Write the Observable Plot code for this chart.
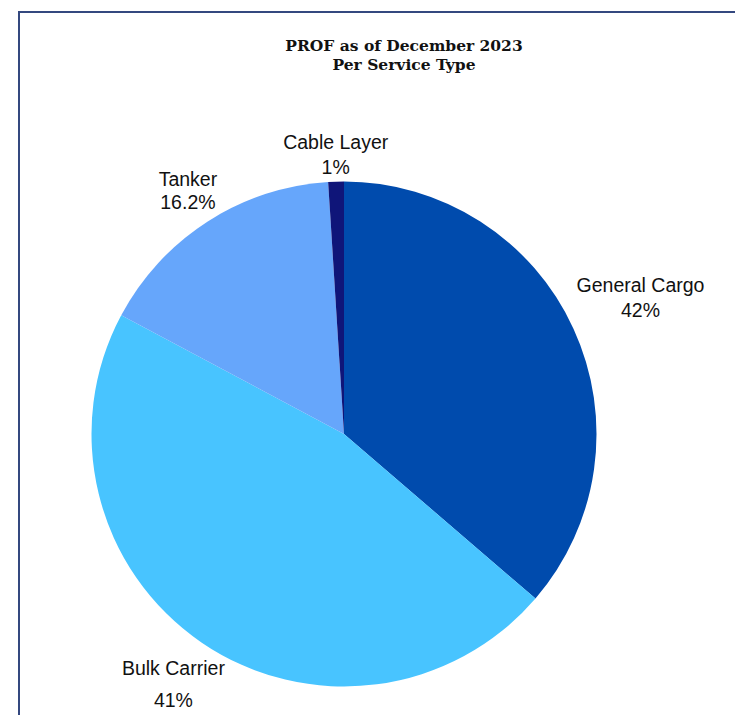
<!DOCTYPE html>
<html>
<head>
<meta charset="utf-8">
<script src="https://cdn.jsdelivr.net/npm/d3@7"></script>
<script src="https://cdn.jsdelivr.net/npm/@observablehq/plot@0.6"></script>
<style>
  html, body { margin: 0; padding: 0; background: #fff; }
  #wrap { position: relative; width: 735px; height: 715px; overflow: hidden; }
  #chart { position: absolute; left: 0; top: 0; }
  #frame { position: absolute; left: 18px; top: 11px; right: -10px; bottom: -10px;
           border-left: 2px solid #34487f; border-top: 2px solid #34487f; pointer-events: none; }
  #title { position: absolute; left: 204px; width: 400px; top: 36px; text-align: center;
           font: bold 15.5px/19px "DejaVu Serif", serif; color: #111; }
</style>
</head>
<body>
<div id="wrap">
  <div id="chart"></div>
  <div id="frame"></div>
  <div id="title">PROF as of December 2023<br>Per Service Type</div>
</div>
<script>
// ---- data ----
const categories = ["General Cargo", "Bulk Carrier", "Tanker", "Cable Layer"];
const shares = [36.3, 46.5, 16.2, 1.0];          // slice sizes as drawn (%)
const labelTexts = ["42%", "41%", "16.2%", "1%"]; // data labels as printed

// ---- styles / layout ----
const palette = ["#004BAD", "#48C4FF", "#66A6FB", "#0F1579"];
const W = 735, H = 715;
const cx = 344, cy = 434, R = 252.5;
const labelRadius = {"General Cargo": 1.29, "Bulk Carrier": 1.20, "Tanker": 1.146, "Cable Layer": 1.108};
const lineGap = {"General Cargo": 25, "Bulk Carrier": 32, "Tanker": 22.5, "Cable Layer": 25};

const rows = categories.map((c, i) => ({category: c, share: shares[i], label: labelTexts[i]}));
const arcs = d3.pie().sort(null).value(d => d.share)(rows);
const color = d3.scaleOrdinal(categories, palette);

const labels = arcs.map(a => {
  const m = (a.startAngle + a.endAngle) / 2;
  const k = labelRadius[a.data.category];
  const g = lineGap[a.data.category] / 2 / R;
  return {
    name: a.data.category,
    pct: a.data.label,
    x: k * Math.sin(m),
    yName: k * Math.cos(m) + g,
    yPct: k * Math.cos(m) - g
  };
});

function slices(index, scales) {
  const x0 = scales.x(0), y0 = scales.y(0);
  const r = scales.x(1) - scales.x(0);
  const g = d3.create("svg:g").attr("transform", `translate(${x0},${y0})`);
  const arc = d3.arc().innerRadius(0).outerRadius(r);
  g.selectAll("path").data(arcs).join("path")
    .attr("d", arc)
    .attr("fill", d => color(d.data.category));
  return g.node();
}

const textOpts = {
  fontSize: 19.5,
  fontFamily: "'Liberation Sans', Arial, sans-serif",
  fill: "#111",
  textAnchor: "middle",
  lineAnchor: "middle"
};

const chart = Plot.plot({
  width: W,
  height: H,
  marginLeft: cx - R,
  marginRight: W - cx - R,
  marginTop: cy - R,
  marginBottom: H - cy - R,
  x: {domain: [-1, 1], axis: null},
  y: {domain: [-1, 1], axis: null},
  style: {background: "transparent", overflow: "visible"},
  marks: [
    slices,
    Plot.text(labels, {x: "x", y: "yName", text: "name", ...textOpts}),
    Plot.text(labels, {x: "x", y: "yPct", text: "pct", ...textOpts})
  ]
});
document.getElementById("chart").appendChild(chart);
</script>
</body>
</html>
